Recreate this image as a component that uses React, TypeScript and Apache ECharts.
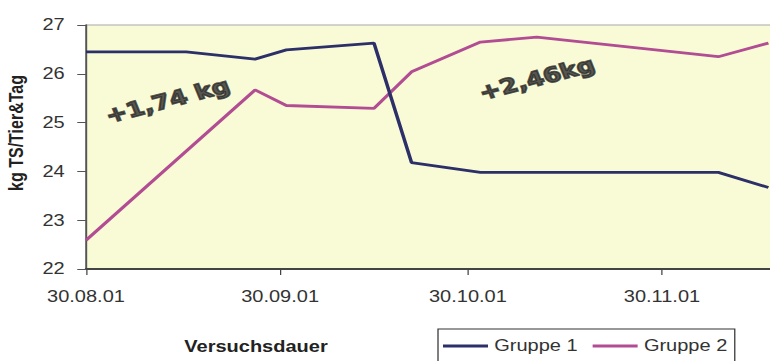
import React, { useEffect, useRef } from "react";
import * as echarts from "echarts";

// Measurement dates and daily dry-matter intake per group
const group1Dates = ["2001-08-30", "2001-09-15", "2001-09-26", "2001-10-01", "2001-10-15", "2001-10-21", "2001-11-01", "2001-12-09", "2001-12-17"];
const group1Values = [26.45, 26.45, 26.3, 26.49, 26.63, 24.18, 23.98, 23.98, 23.67];

const group2Dates = ["2001-08-30", "2001-09-26", "2001-10-01", "2001-10-15", "2001-10-21", "2001-11-01", "2001-11-10", "2001-12-09", "2001-12-17"];
const group2Values = [22.59, 25.67, 25.35, 25.29, 26.04, 26.65, 26.75, 26.35, 26.63];

// Date axis ticks
const tickDates = ["2001-08-30", "2001-09-30", "2001-10-30", "2001-11-30"];
const axisStart = "2001-08-30";
const axisSpanDays = 109.45;

// Difference notes written into the plot
const noteTexts = ["+1,74 kg", "+2,46kg"];
const noteDates = ["2001-09-12", "2001-11-10"];
const noteValues = [25.46, 25.91];

const seriesNames = ["Gruppe 1", "Gruppe 2"];
const seriesColors = ["#2d2f68", "#b24c93"];

const DAY = 86400000;
const toUTC = (s: string) => {
  const [y, m, d] = s.split("-").map(Number);
  return Date.UTC(y, m - 1, d);
};
const START = toUTC(axisStart);
// days elapsed since the start of the trial
const toDay = (s: string) => Math.round((toUTC(s) - START) / DAY);

const pad2 = (n: number) => (n < 10 ? "0" + n : "" + n);
const fmtDay = (day: number) => {
  const d = new Date(START + Math.round(day) * DAY);
  return `${pad2(d.getUTCDate())}.${pad2(d.getUTCMonth() + 1)}.${pad2(d.getUTCFullYear() % 100)}`;
};

// The chart is laid out at its native width and stretched horizontally to fill the frame
const STRETCH = 1.25;
const FRAME_W = 770;
const FRAME_H = 361;
const W = FRAME_W / STRETCH;

const FONT = "'Liberation Sans', Arial, sans-serif";

export default function App() {
  const ref = useRef<HTMLDivElement>(null);

  useEffect(() => {
    if (!ref.current) return;
    const chart = echarts.init(ref.current, undefined, { renderer: "svg" });
    const tickDays = tickDates.map(toDay);

    chart.setOption({
      animation: false,
      grid: {
        left: 86 / STRETCH,
        right: -1,
        top: 25,
        bottom: 92,
        containLabel: false,
        outerBoundsMode: "none",
        show: true,
        backgroundColor: "#f9fbd7",
        borderColor: "#a8a8a8",
        borderWidth: 1,
      },
      legend: {
        data: seriesNames,
        left: 438 / STRETCH,
        top: 329,
        icon: "rect",
        itemWidth: 36,
        itemHeight: 3,
        itemGap: 12,
        padding: [9, 6, 22, 4],
        borderColor: "#333",
        borderWidth: 1,
        textStyle: { fontFamily: FONT, fontSize: 16, color: "#333" },
      },
      xAxis: {
        type: "value",
        min: 0,
        max: axisSpanDays,
        splitLine: { show: false },
        axisLine: { lineStyle: { color: "#444", width: 2 } },
        axisTick: {
          show: true,
          length: 6,
          lineStyle: { color: "#444", width: 1 },
          customValues: tickDays,
        },
        axisLabel: {
          customValues: tickDays,
          formatter: (v: number) => fmtDay(v),
          fontFamily: FONT,
          fontSize: 16,
          color: "#333",
          margin: 20,
        },
      },
      yAxis: {
        type: "value",
        min: 22,
        max: 27,
        interval: 1,
        name: "kg TS/Tier&Tag",
        nameLocation: "middle",
        nameGap: 48,
        nameMoveOverlap: false,
        nameTextStyle: {
          fontFamily: FONT,
          fontSize: 16,
          fontWeight: "bold",
          color: "#222",
          padding: [0, 0, 0, 28],
        },
        splitLine: { show: false },
        axisLine: { show: true, lineStyle: { color: "#555", width: 1.5 } },
        axisTick: { show: true, length: 7, lineStyle: { color: "#555" } },
        axisLabel: { fontFamily: FONT, fontSize: 16, color: "#333", margin: 17 },
      },
      graphic: [
        {
          type: "text",
          x: 256 / STRETCH,
          y: 347,
          style: {
            text: "Versuchsdauer",
            fontFamily: FONT,
            fontSize: 16,
            fontWeight: "bold",
            fill: "#222",
            textAlign: "center",
            textVerticalAlign: "middle",
          },
        },
      ],
      series: [
        {
          name: seriesNames[0],
          type: "line",
          data: group1Dates.map((d, i) => [toDay(d), group1Values[i]]),
          showSymbol: false,
          symbol: "none",
          lineStyle: { color: seriesColors[0], width: 2.8 },
          itemStyle: { color: seriesColors[0] },
          z: 3,
        },
        {
          name: seriesNames[1],
          type: "line",
          data: group2Dates.map((d, i) => [toDay(d), group2Values[i]]),
          showSymbol: false,
          symbol: "none",
          lineStyle: { color: seriesColors[1], width: 2.8 },
          itemStyle: { color: seriesColors[1] },
          z: 2,
        },
        {
          name: "notes",
          type: "scatter",
          symbolSize: 0,
          silent: true,
          data: noteTexts.map((t, i) => ({ name: t, value: [toDay(noteDates[i]), noteValues[i]] })),
          label: {
            show: true,
            position: "inside",
            formatter: (p: any) => p.name,
            rotate: 18,
            fontFamily: "'DejaVu Sans', sans-serif",
            fontSize: 20.5,
            fontWeight: "bold",
            color: "#2a2a2a",
            textBorderColor: "#2a2a2a",
            textBorderWidth: 1.6,
          },
          z: 5,
        },
      ],
    });

    return () => chart.dispose();
  }, []);

  return (
    <div
      ref={ref}
      style={{
        position: "fixed",
        left: 0,
        top: 0,
        width: W,
        height: FRAME_H,
        transform: `scaleX(${STRETCH})`,
        transformOrigin: "0 0",
        background: "#fff",
      }}
    />
  );
}
